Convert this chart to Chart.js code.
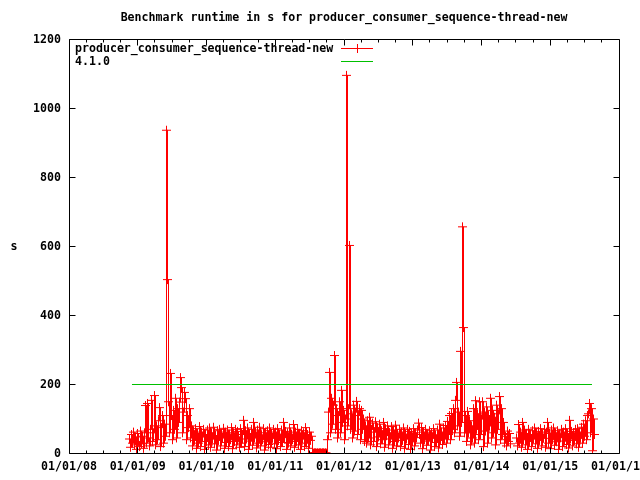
<!DOCTYPE html>
<html><head><meta charset="utf-8">
<script src="https://cdn.jsdelivr.net/npm/chart.js@4"></script>
<style>html,body{margin:0;padding:0;background:#fff}</style>
</head><body>
<canvas id="c" width="640" height="480"></canvas>
<script>
// ---------- data ----------
const chartTitle = 'Benchmark runtime in s for producer_consumer_sequence-thread-new';
const seriesName = 'producer_consumer_sequence-thread-new';
const refName = '4.1.0';
const yAxisTitle = 's';
const xTickYears = [2008, 2009, 2010, 2011, 2012, 2013, 2014, 2015, 2016];
const yTickValues = [0, 200, 400, 600, 800, 1000, 1200];
const sampleStepYears = 1 / 68.75;        // one run about every 5.3 days
const mainStartYear = 2008.88;            // first run
const mainValues = [
  42, 18, 55, 30, 62, 25, 48, 12, 58, 35, 20, 65, 28, 50, 15, 60,
  139, 30, 145, 45, 22, 70, 154, 35, 60, 168, 25, 80, 40, 95, 133, 20, 75, 110, 30, 85,
  50, 937, 504, 150, 60, 232, 110, 40, 125, 70, 160, 45, 130, 90, 149, 220, 191, 60, 120, 177,
  159, 40, 110, 75, 130,
  45, 80, 22, 66, 38, 72, 15, 58, 30, 78, 20, 62, 48, 70, 12, 55, 35, 68, 25, 74,
  18, 60, 42, 76, 28, 52, 10, 66, 38, 70, 22, 58, 45, 73, 15, 62, 32, 68, 20, 56,
  40, 75, 14, 60, 35, 70, 25, 64, 48, 18, 72, 30, 55, 96, 20, 66, 42, 74, 12, 58,
  36, 70, 24, 90, 45, 62, 16, 68, 30, 76, 22, 54, 40, 72, 10, 60, 34, 66, 26, 74,
  18, 58, 44, 70, 28, 62, 14, 72, 38, 56, 20, 68, 32, 90, 46, 64, 12, 60, 30, 74,
  22, 56, 40, 84, 18, 62, 35, 70, 25, 58, 12, 66, 42, 60, 20, 75, 30, 55, 15, 62, 38, 50,
  2, 1, 2, 2, 1, 2, 1, 2, 2, 1, 2, 2, 1, 2, 1,
  40, 120, 235, 60, 160, 85, 140, 284, 70, 130, 45, 110, 150, 60, 183, 90, 125, 40, 100, 1096,
  80, 130, 603, 70, 115, 45, 140, 65, 120, 151, 55, 110, 130, 40, 125, 70, 100, 35,
  80, 30, 95, 45, 105, 25, 70, 88, 35, 62, 92, 20, 75, 48, 85, 28, 66, 40, 90, 18,
  72, 52, 80, 25, 60, 42, 78, 15, 68, 35, 82, 22, 58, 45, 70,
  20, 62, 38, 74, 15, 56, 42, 70, 26, 64, 12, 58, 34, 72, 22, 60, 46, 68, 88, 55,
  30, 75, 14, 62, 40, 70, 24, 57, 36, 66, 10, 60, 44, 72, 20, 54, 32, 68, 16, 85,
  38, 62, 26, 74, 42,
  81, 30, 93, 55, 110, 40, 116, 70, 130, 60, 154,
  206, 80, 120, 50, 296, 90, 657, 365, 60,
  110, 35, 122, 60, 95, 25, 80, 45, 130, 30, 153, 70, 115, 40, 150, 55, 100, 150, 20, 120,
  65, 135, 30, 110, 80, 160, 45, 125, 60, 105, 25, 140, 70, 115, 165, 40, 130, 55, 90, 30,
  50, 22, 65, 35, 58, 28
];
const tailStartYear = 2014.5091;
const tailValues = [
  45, 22, 84, 30, 62, 18, 90, 40, 68, 25, 58, 12, 70, 35, 55, 20, 66, 42, 74, 28,
  60, 15, 64, 38, 72, 22, 56, 44, 70, 18, 62, 90, 30, 58, 14, 68, 40, 74, 24, 60,
  34, 66, 12, 56, 46, 70, 20, 62, 36, 72, 26, 58, 16, 96, 42, 64, 22, 60, 38, 70,
  28, 72, 18, 62, 44, 76, 30, 85, 50, 95, 40, 110, 115, 145, 60, 130, 8, 100, 55
];
const refStartYear = 2008.916;
const refEndYear = 2015.607;
const refValue = 200;

// ---------- build ----------
const mainPoints = mainValues.map((v, i) => ({ x: mainStartYear + i * sampleStepYears, y: v }));
const tailPoints = tailValues.map((v, i) => ({ x: tailStartYear + i * sampleStepYears, y: v }));
const gapPoint = { x: (mainPoints[mainPoints.length - 1].x + tailStartYear) / 2, y: null };
const seriesPoints = mainPoints.concat([gapPoint], tailPoints);
const refPoints = [{ x: refStartYear, y: refValue }, { x: refEndYear, y: refValue }];

const FONT = 'DejaVu Sans Mono';
const fontSpec = { family: FONT, size: 11.6, weight: 'bold' };
const RED = '#ff0000', GREEN = '#00c000';

const gnuplotFrame = {
  id: 'gnuplotFrame',
  afterDraw(chart) {
    const { ctx, chartArea: a, scales: { x, y } } = chart;
    ctx.save();
    ctx.strokeStyle = '#000';
    ctx.lineWidth = 1;
    const L = Math.floor(a.left) + 0.5, R = Math.floor(a.right) + 0.5;
    const T = Math.floor(a.top) + 0.5, B = Math.floor(a.bottom) + 0.5;
    ctx.beginPath();
    ctx.rect(L, T, R - L, B - T);
    for (let k = 0; k < xTickYears.length - 1; k++) {
      for (let q = 0; q < 4; q++) {
        const px = Math.floor(x.getPixelForValue(xTickYears[k] + q / 4)) + 0.5;
        const len = q === 0 ? 6 : 3;
        ctx.moveTo(px, B); ctx.lineTo(px, B - len);
        ctx.moveTo(px, T); ctx.lineTo(px, T + len);
      }
    }
    yTickValues.forEach(v => {
      const py = Math.floor(y.getPixelForValue(v)) + 0.5;
      ctx.moveTo(L, py); ctx.lineTo(L + 6, py);
      ctx.moveTo(R, py); ctx.lineTo(R - 6, py);
    });
    ctx.stroke();

    ctx.fillStyle = '#000';
    ctx.font = `bold 11.6px "${FONT}"`;
    ctx.textAlign = 'center';
    ctx.textBaseline = 'middle';
    ctx.fillText(chartTitle, (a.left + a.right) / 2, 18);
    ctx.fillText(yAxisTitle, 14, (a.top + a.bottom) / 2);

    ctx.textAlign = 'left';
    ctx.fillText(seriesName, 75, 49);
    ctx.fillText(refName, 75, 62);
    ctx.strokeStyle = RED;
    ctx.beginPath();
    ctx.moveTo(341, 48.5); ctx.lineTo(373, 48.5);
    ctx.moveTo(357.5, 44); ctx.lineTo(357.5, 53);
    ctx.stroke();
    ctx.strokeStyle = GREEN;
    ctx.beginPath();
    ctx.moveTo(341, 61.5); ctx.lineTo(373, 61.5);
    ctx.stroke();
    ctx.restore();
  }
};

new Chart(document.getElementById('c'), {
  type: 'scatter',
  data: {
    datasets: [
      {
        label: seriesName, data: seriesPoints, showLine: true, spanGaps: false, stepped: true,
        borderColor: RED, backgroundColor: RED, borderWidth: 1,
        pointStyle: 'cross', pointRadius: 4.5, pointBorderWidth: 1, pointHoverRadius: 4.5,
        order: 1
      },
      {
        label: refName, data: refPoints, showLine: true,
        borderColor: GREEN, backgroundColor: GREEN, borderWidth: 1,
        pointRadius: 0, order: 0
      }
    ]
  },
  options: {
    responsive: false,
    animation: false,
    events: [],
    layout: { padding: { top: 39.5, right: 21, left: 0, bottom: 0 } },
    plugins: { legend: { display: false }, title: { display: false }, tooltip: { enabled: false } },
    scales: {
      x: {
        type: 'linear', min: xTickYears[0], max: xTickYears[xTickYears.length - 1],
        grid: { display: false, drawTicks: false },
        border: { display: false },
        ticks: {
          stepSize: 1, autoSkip: false, maxRotation: 0, padding: 7,
          color: '#000', font: fontSpec,
          callback: v => '01/01/' + String(Math.round(v) % 100).padStart(2, '0')
        },
        afterFit(s) { s.height = 26.5; s.paddingLeft = 0; s.paddingRight = 0; }
      },
      y: {
        min: yTickValues[0], max: yTickValues[yTickValues.length - 1],
        grid: { display: false, drawTicks: false },
        border: { display: false },
        ticks: { stepSize: 200, padding: 8, color: '#000', font: fontSpec, callback: v => String(v) },
        afterFit(s) { s.width = 69; s.paddingTop = 0; s.paddingBottom = 0; }
      }
    }
  },
  plugins: [gnuplotFrame]
});
</script>
</body></html>
